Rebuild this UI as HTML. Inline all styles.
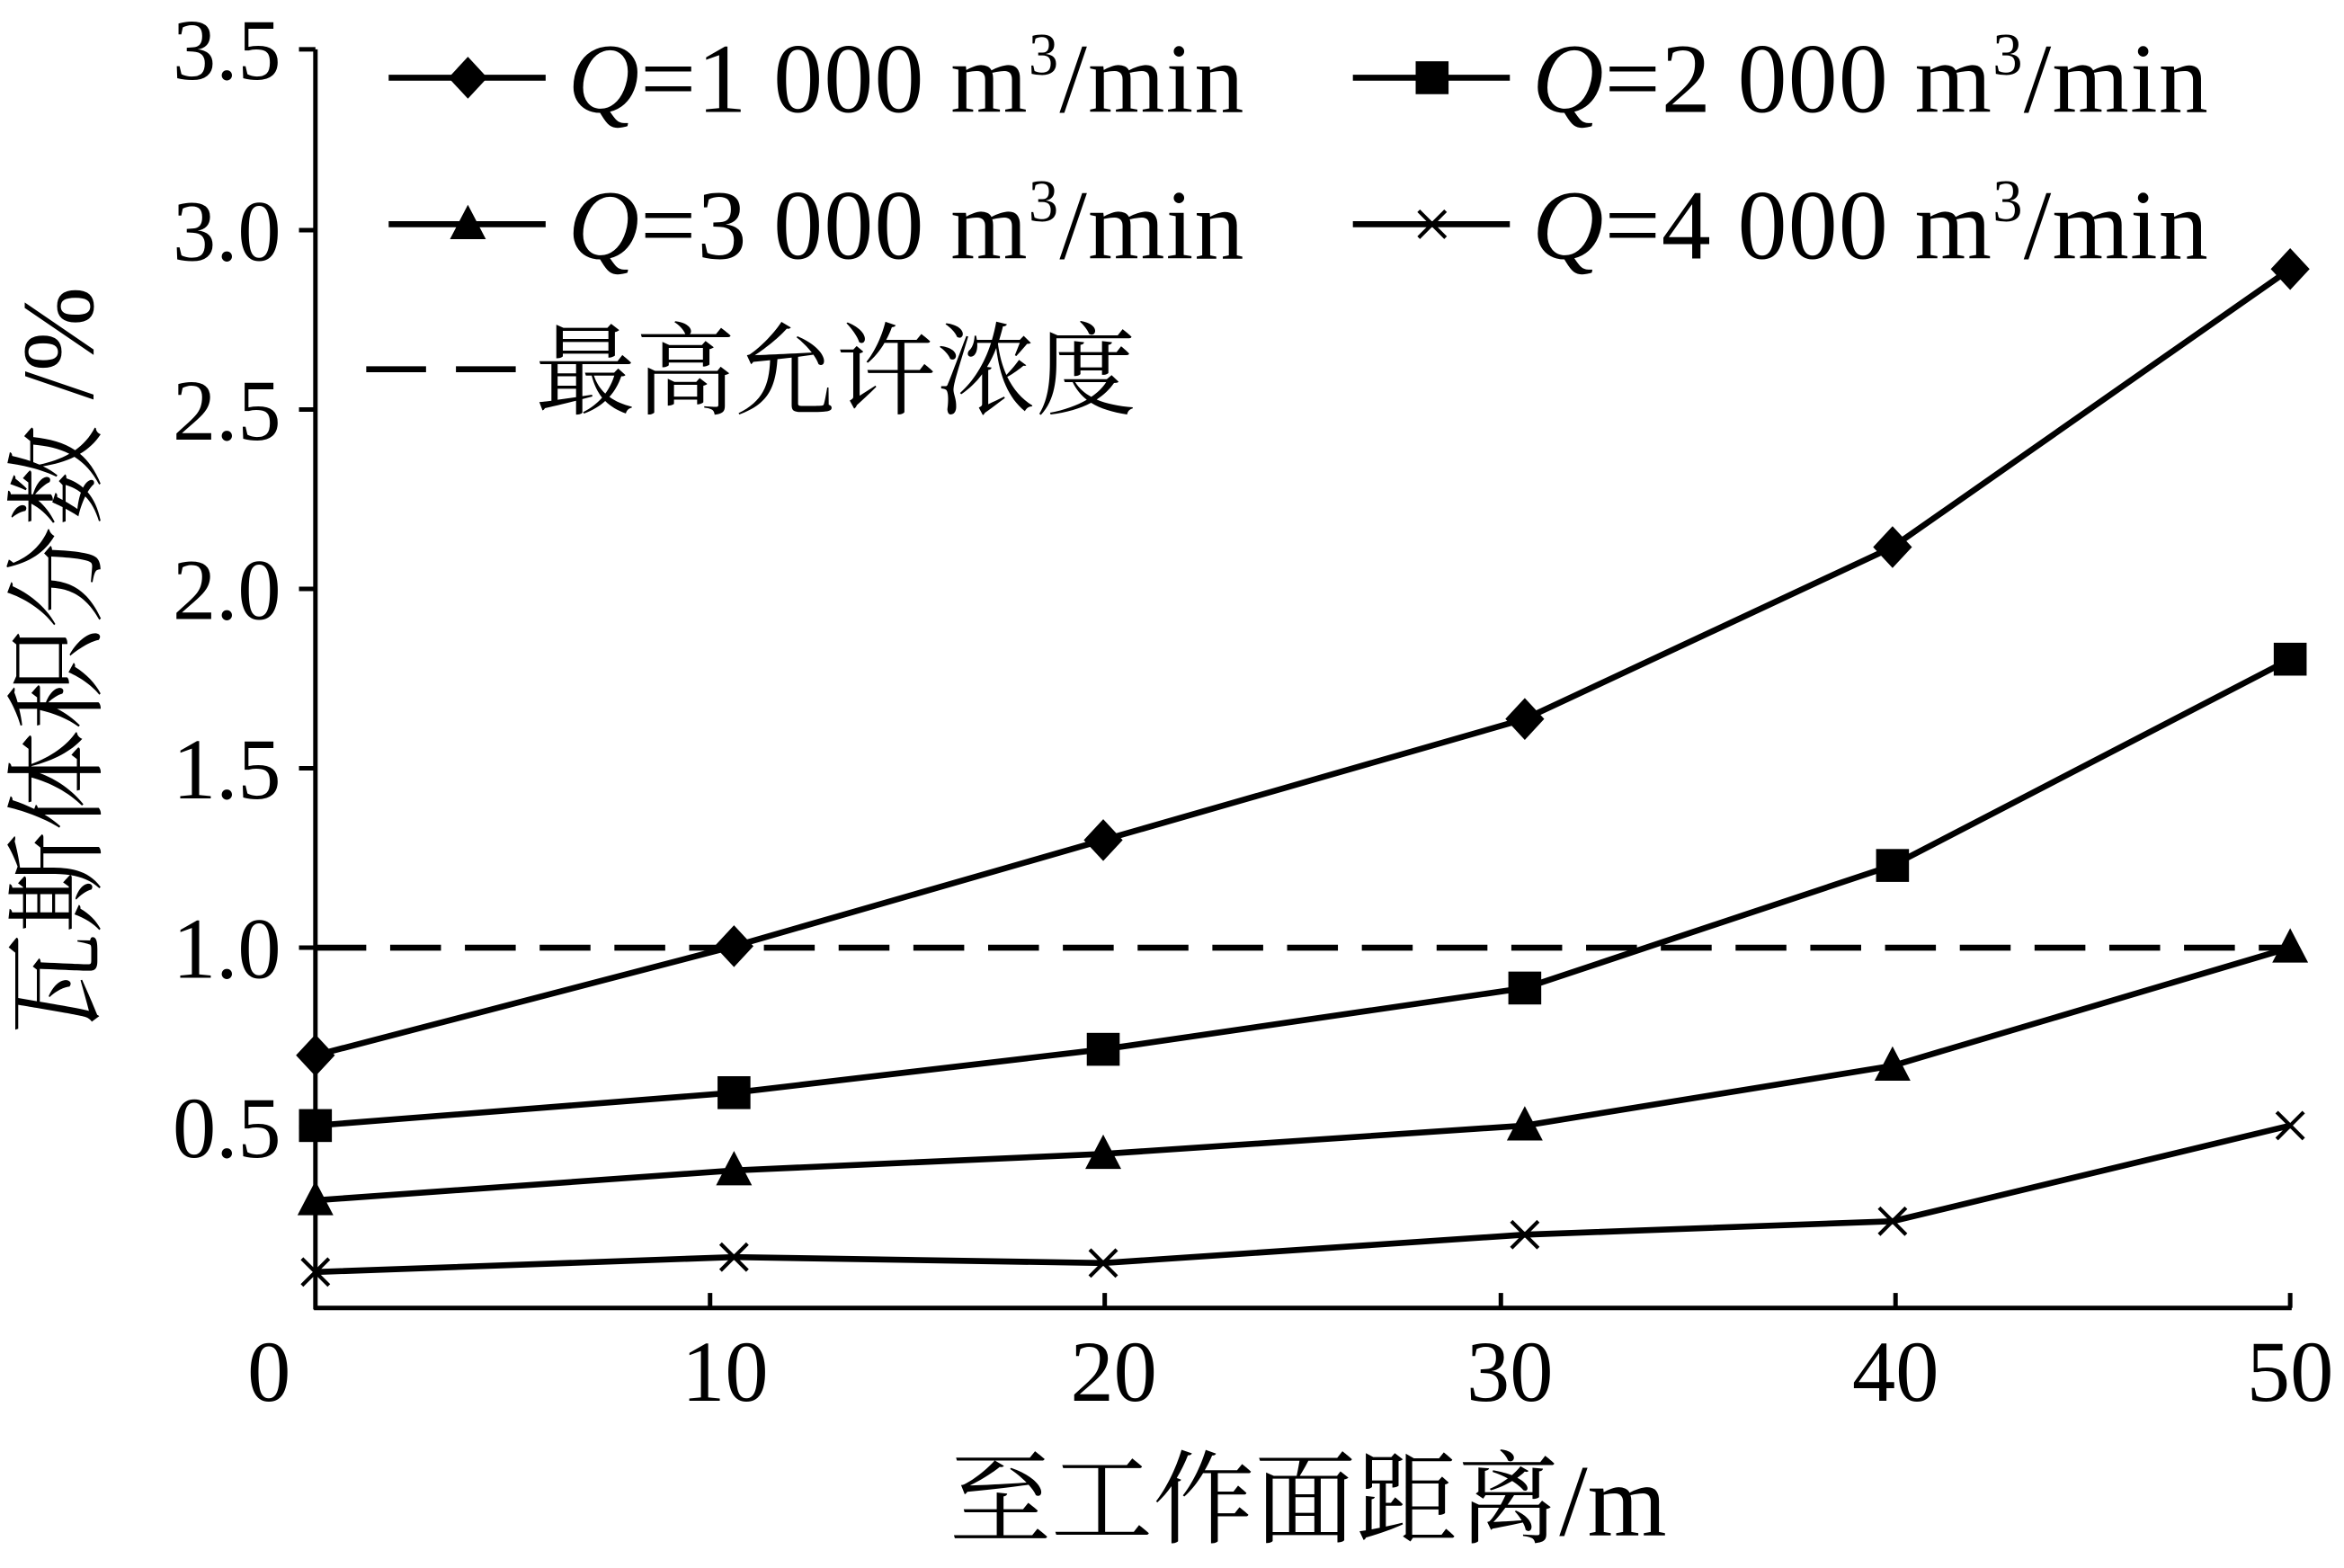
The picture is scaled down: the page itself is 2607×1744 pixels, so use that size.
<!DOCTYPE html>
<html><head><meta charset="utf-8"><style>html,body{margin:0;padding:0;background:#fff}svg{display:block}</style></head>
<body>
<svg width="2607" height="1744" viewBox="0 0 1568 1049" preserveAspectRatio="none" xmlns="http://www.w3.org/2000/svg" font-family="'Liberation Serif','Noto Serif CJK SC',serif">
<defs>
<path id="dia" d="M0,-14 L13,0 L0,14 L-13,0Z" fill="#000"/>
<rect id="sq" x="-11" y="-11" width="22" height="22" fill="#000"/>
<path id="tri" d="M0,-13 L12,10 L-12,10Z" fill="#000"/>
<path id="x" d="M-9,-9 L9,9 M-9,9 L9,-9" stroke="#000" stroke-width="2.5"/>
</defs>
<g stroke="#000" stroke-width="3" fill="none">
<line x1="211" y1="33" x2="211" y2="876"/>
<line x1="210" y1="875" x2="1533" y2="875"/>
<line x1="200" y1="33" x2="211" y2="33"/><line x1="200" y1="154" x2="211" y2="154"/><line x1="200" y1="274" x2="211" y2="274"/><line x1="200" y1="394" x2="211" y2="394"/><line x1="200" y1="514" x2="211" y2="514"/><line x1="200" y1="634" x2="211" y2="634"/><line x1="200" y1="754" x2="211" y2="754"/>
<line x1="475" y1="875" x2="475" y2="865"/><line x1="739" y1="875" x2="739" y2="865"/><line x1="1004" y1="875" x2="1004" y2="865"/><line x1="1268" y1="875" x2="1268" y2="865"/><line x1="1532" y1="875" x2="1532" y2="865"/>
</g>
<g stroke="#000" stroke-width="4" fill="none">
<line x1="211" y1="634" x2="1532" y2="634" stroke-dasharray="34,16"/>
<polyline points="211,706 491,633 738,562 1020,481 1266,366 1532,180"/>
<polyline points="211,753 491,731 738,702 1020,661 1266,579 1532,441"/>
<polyline points="211,803 491,783 738,772 1020,753 1266,713 1532,634"/>
<polyline points="211,851 491,841 738,845 1020,826 1266,817 1532,753"/>
<line x1="260" y1="52" x2="365" y2="52"/><line x1="905" y1="52" x2="1010" y2="52"/>
<line x1="260" y1="150" x2="365" y2="150"/><line x1="905" y1="150" x2="1010" y2="150"/>
<line x1="245" y1="247" x2="345" y2="247" stroke-dasharray="40,20"/>
</g>
<g>
<use href="#dia" x="211" y="706"/><use href="#dia" x="491" y="633"/><use href="#dia" x="738" y="562"/><use href="#dia" x="1020" y="481"/><use href="#dia" x="1266" y="366"/><use href="#dia" x="1532" y="180"/>
<use href="#sq" x="211" y="753"/><use href="#sq" x="491" y="731"/><use href="#sq" x="738" y="702"/><use href="#sq" x="1020" y="661"/><use href="#sq" x="1266" y="579"/><use href="#sq" x="1532" y="441"/>
<use href="#tri" x="211" y="803"/><use href="#tri" x="491" y="783"/><use href="#tri" x="738" y="772"/><use href="#tri" x="1020" y="753"/><use href="#tri" x="1266" y="713"/><use href="#tri" x="1532" y="634"/>
<use href="#x" x="211" y="851"/><use href="#x" x="491" y="841"/><use href="#x" x="738" y="845"/><use href="#x" x="1020" y="826"/><use href="#x" x="1266" y="817"/><use href="#x" x="1532" y="753"/>
<use href="#dia" x="313" y="52"/><use href="#sq" x="958" y="52"/><use href="#tri" x="313" y="150"/><use href="#x" x="958" y="150"/>
</g>
<g font-size="58" text-anchor="end">
<text x="188" y="53">3.5</text><text x="188" y="174">3.0</text><text x="188" y="294">2.5</text><text x="188" y="414">2.0</text><text x="188" y="534">1.5</text><text x="188" y="654">1.0</text><text x="188" y="774">0.5</text>
</g>
<g font-size="58" text-anchor="middle">
<text x="180" y="937">0</text><text x="485" y="937">10</text><text x="745" y="937">20</text><text x="1010" y="937">30</text><text x="1268" y="937">40</text><text x="1532" y="937">50</text>
</g>
<g font-size="66">
<text x="380" y="75" textLength="452"><tspan font-style="italic">Q</tspan>=1 000 m<tspan font-size="40" dy="-25">3</tspan><tspan dy="25">/min</tspan></text>
<text x="1025" y="75" textLength="452"><tspan font-style="italic">Q</tspan>=2 000 m<tspan font-size="40" dy="-25">3</tspan><tspan dy="25">/min</tspan></text>
<text x="380" y="173" textLength="452"><tspan font-style="italic">Q</tspan>=3 000 m<tspan font-size="40" dy="-25">3</tspan><tspan dy="25">/min</tspan></text>
<text x="1025" y="173" textLength="452"><tspan font-style="italic">Q</tspan>=4 000 m<tspan font-size="40" dy="-25">3</tspan><tspan dy="25">/min</tspan></text>
<text x="358" y="272" font-size="67" font-family="'Noto Serif CJK SC',serif">最高允许浓度</text>
<text x="875" y="1027" text-anchor="middle" font-size="68">至工作面距离/m</text>
<text transform="translate(62,442) rotate(-90)" text-anchor="middle" font-size="68">瓦斯体积分数 /%</text>
</g>
</svg>
</body></html>
